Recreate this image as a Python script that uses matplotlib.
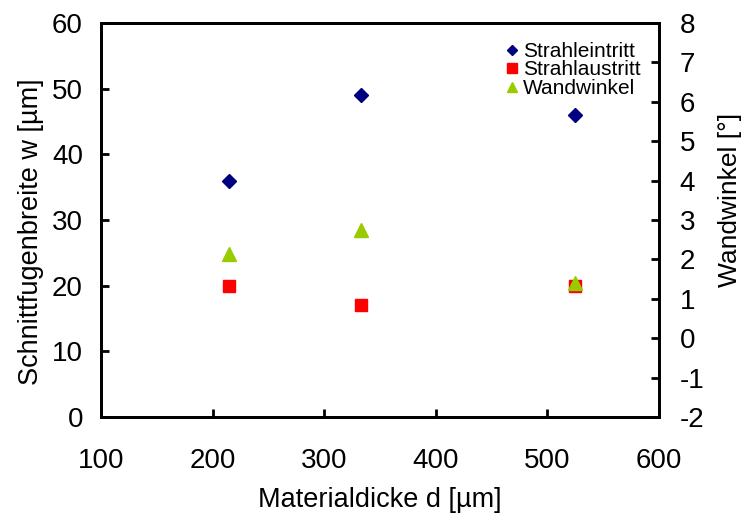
import matplotlib.pyplot as plt

plt.rcParams['font.family'] = ['Liberation Sans', 'DejaVu Sans']
plt.rcParams['axes.unicode_minus'] = False

# Daten
dicke = [215, 333, 525]
strahleintritt = [36, 49, 46]
strahlaustritt = [20, 17, 20]
wandwinkel = [2.15, 2.75, 1.4]

fig = plt.figure(figsize=(7.46, 5.17), dpi=100)
ax = fig.add_axes([0.1354, 0.1934, 0.748, 0.762])
ax2 = ax.twinx()

h1, = ax.plot(dicke, strahleintritt, linestyle="none", marker="D", markersize=7,
              color="#000080", label="Strahleintritt")
h2, = ax.plot(dicke, strahlaustritt, linestyle="none", marker="s", markersize=8.5,
              color="#FF0000", label="Strahlaustritt")
h3, = ax2.plot(dicke, wandwinkel, linestyle="none", marker="^", markersize=9.5,
               color="#99CC00", label="Wandwinkel")

ax.set_xlim(100, 600)
ax.set_ylim(0, 60)
ax2.set_ylim(-2, 8)
ax.set_xticks(range(100, 601, 100))
ax.set_yticks(range(0, 61, 10))
ax2.set_yticks(range(-2, 9, 1))

for a in (ax, ax2):
    a.tick_params(direction="in", length=6, width=2, labelsize=20)
    for s in a.spines.values():
        s.set_linewidth(2)
ax.tick_params(axis="x", pad=22)
ax.tick_params(axis="y", pad=13)
ax2.tick_params(axis="y", pad=15)

ax.set_xlabel("Materialdicke d [µm]", fontsize=19.5, labelpad=10)
ax.set_ylabel("Schnittfugenbreite w [µm]", fontsize=19.5, labelpad=6, y=0.47)
ax2.set_ylabel("Wandwinkel [°]", fontsize=19, labelpad=10, y=0.55)

ax.legend(handles=[h1, h2, h3], loc="upper right", fontsize=15, frameon=False,
          handlelength=0.6, handletextpad=0.2, labelspacing=-0.02,
          borderaxespad=0.5, markerscale=0.8)

fig.savefig("out.png", dpi=100)
